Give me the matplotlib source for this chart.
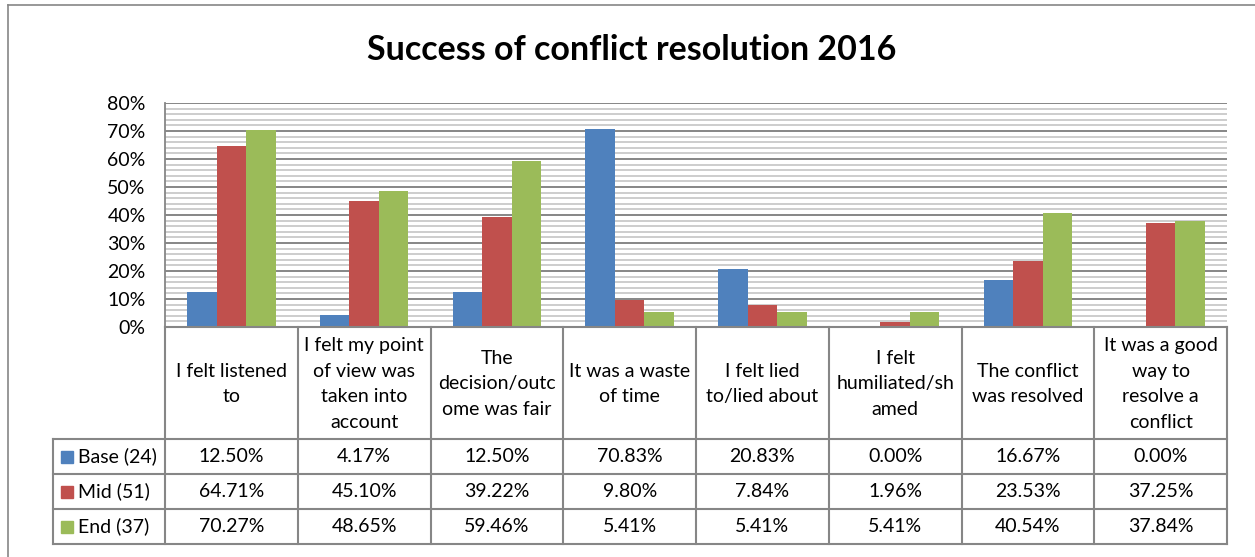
import numpy as np
import matplotlib.pyplot as plt
from matplotlib.ticker import MultipleLocator, PercentFormatter

plt.rcParams['font.family'] = ['Lato', 'DejaVu Sans']

# ---- data ----
categories = [
    "I felt listened\nto",
    "I felt my point\nof view was\ntaken into\naccount",
    "The\ndecision/outc\nome was fair",
    "It was a waste\nof time",
    "I felt lied\nto/lied about",
    "I felt\nhumiliated/sh\named",
    "The conflict\nwas resolved",
    "It was a good\nway to\nresolve a\nconflict",
]
series_names = ["Base (24)", "Mid (51)", "End (37)"]
base = [12.50, 4.17, 12.50, 70.83, 20.83, 0.00, 16.67, 0.00]
mid = [64.71, 45.10, 39.22, 9.80, 7.84, 1.96, 23.53, 37.25]
end = [70.27, 48.65, 59.46, 5.41, 5.41, 5.41, 40.54, 37.84]
colors = ["#4F81BD", "#C0504D", "#9BBB59"]
title = "Success of conflict resolution 2016"

FS = 14
W, H = 1255, 557
fig = plt.figure(figsize=(W / 100, H / 100), dpi=100)

# chart area border
fig.add_artist(plt.Line2D([8 / W, 8 / W], [0, 1 - 5 / H], color="#868686", lw=1.2))
fig.add_artist(plt.Line2D([8 / W, 1], [1 - 5 / H, 1 - 5 / H], color="#868686", lw=1.2))

fig.text(632 / W, 1 - 50 / H, title, ha="center", va="center",
         fontsize=24.5, fontweight="bold")

# plot area
left, right, top, bottom = 165, 1227, 103, 327
ax = fig.add_axes([left / W, 1 - bottom / H, (right - left) / W, (bottom - top) / H])
n = len(categories)
x = np.arange(n) + 0.5
bw = 1 / 4.5
for k, vals in enumerate([base, mid, end]):
    ax.bar(x + (k - 1) * bw, vals, width=bw, color=colors[k], zorder=3)

ax.set_xlim(0, n)
ax.set_ylim(0, 80)
ax.yaxis.set_major_locator(MultipleLocator(10))
ax.yaxis.set_minor_locator(MultipleLocator(2))
ax.yaxis.set_major_formatter(PercentFormatter(decimals=0))
ax.grid(axis="y", which="minor", color="#C0C0C0", lw=1.1, zorder=1)
ax.grid(axis="y", which="major", color="#868686", lw=1.4, zorder=2)
ax.tick_params(axis="y", which="both", length=0, labelsize=FS, pad=14)
ax.set_xticks([])
for s in ["top", "right", "bottom"]:
    ax.spines[s].set_visible(False)
ax.spines["left"].set_color("#868686")
ax.spines["left"].set_linewidth(1.3)

# data table below
tleft, tbottom = 53, 544
lw_cell = (left - tleft) / ((right - left) / n)
head_h, row_h = 112, 35
ax_t = fig.add_axes([tleft / W, 1 - tbottom / H, (right - tleft) / W, (tbottom - bottom) / H])
ax_t.set_xlim(-lw_cell, n)
ax_t.set_ylim(head_h + 3 * row_h, 0)
ax_t.axis("off")
lc, lwid = "#868686", 1.5
ax_t.plot([0, n], [0, 0], color=lc, lw=lwid, clip_on=False)
for r in range(4):
    yy = head_h + r * row_h
    ax_t.plot([-lw_cell, n], [yy, yy], color=lc, lw=lwid, clip_on=False)
ax_t.plot([-lw_cell, -lw_cell], [head_h, head_h + 3 * row_h], color=lc, lw=lwid, clip_on=False)
for c in range(n + 1):
    ax_t.plot([c, c], [0, head_h + 3 * row_h], color=lc, lw=lwid, clip_on=False)

for i, cat in enumerate(categories):
    ax_t.text(i + 0.5, head_h / 2 + 1, cat, ha="center", va="center",
              fontsize=FS, linespacing=1.62)

sq_w = 12 / ((right - left) / n)
for k, (name, vals) in enumerate(zip(series_names, [base, mid, end])):
    yc = head_h + (k + 0.5) * row_h
    ax_t.add_patch(plt.Rectangle((-lw_cell + 8 / 132.75, yc - 6), sq_w, 12,
                                 color=colors[k], clip_on=False))
    ax_t.text(-lw_cell + 25 / 132.75, yc, name, ha="left", va="center", fontsize=FS)
    for i, v in enumerate(vals):
        ax_t.text(i + 0.5, yc, f"{v:.2f}%", ha="center", va="center", fontsize=FS)

fig.savefig("out.png", dpi=100)
